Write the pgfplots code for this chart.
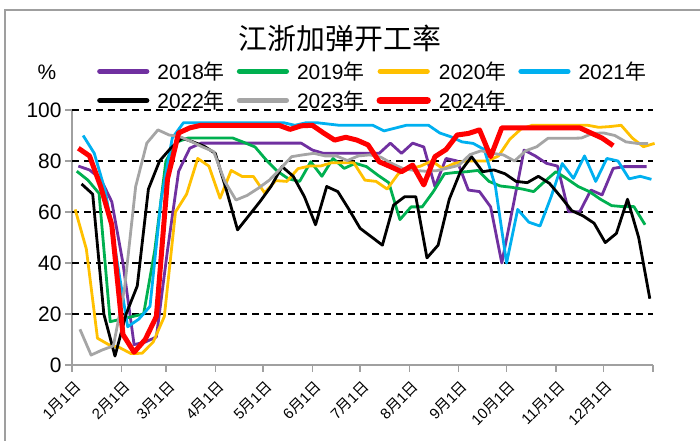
\documentclass[border=0pt]{standalone}
\usepackage{pgfplots}
\pgfplotsset{compat=1.18}
\usepackage{fontspec}
\setmainfont{Liberation Sans}
\newfontfamily\cjk{Noto Sans CJK SC}
\newcommand\md[1]{#1{\cjk 月}1{\cjk 日}}
\definecolor{c18}{HTML}{7030A0}
\definecolor{c19}{HTML}{00B050}
\definecolor{c20}{HTML}{FFC000}
\definecolor{c21}{HTML}{00B0F0}
\definecolor{c22}{HTML}{000000}
\definecolor{c23}{HTML}{A5A5A5}
\definecolor{c24}{HTML}{FF0000}
\definecolor{axgray}{HTML}{A0A0A0}
\begin{document}
\begin{tikzpicture}
\path[use as bounding box] (0,0) rectangle (700bp,441bp);
\draw[color=gray!75, line width=1.5bp] (5bp,0bp) -- (5bp,431bp) -- (700bp,431bp);
\node[font=\cjk\fontsize{29}{32}\selectfont] at (340bp,403bp) {江浙加弹开工率};
\node[font=\fontsize{21}{21}\selectfont] at (47bp,369bp) {\%};
\begin{axis}[
 at={(72bp,76bp)}, anchor=south west,
 scale only axis, width=581bp, height=255bp,
 xmin=0, xmax=365, ymin=0, ymax=100,
 axis lines*=left,
 axis line style={-, draw=axgray, line width=1.5bp},
 tick align=outside,
 major tick length=7bp,
 tick style={draw=axgray, line width=1.3bp},
 xtick={0,31,59,90,120,151,181,212,243,273,304,334,365},
 xticklabels={\md{1},\md{2},\md{3},\md{4},\md{5},\md{6},\md{7},\md{8},\md{9},\md{10},\md{11},\md{12},{}},
 xticklabel style={rotate=45, anchor=north east, font=\fontsize{15}{15}\selectfont, inner sep=1bp, xshift=-3bp, yshift=-5bp},
 ytick={0,20,40,60,80,100},
 yticklabel style={font=\fontsize{21}{21}\selectfont},
 /pgf/number format/assume math mode=true,
 extra y ticks={20,40,60,80,100},
 extra y tick labels={},
 extra y tick style={ymajorgrids=true, major grid style={black, line width=1.2bp, dash pattern=on 7bp off 5bp}},
 clip=false,
 legend columns=4,
 legend cell align=left,
 legend style={at={(axis description cs:0.043,1.19)}, anchor=north west, draw=none, fill=none,
   inner sep=0pt, row sep=10bp, font=\fontsize{21}{21}\selectfont,
   nodes={inner sep=0pt},
   /tikz/every odd column/.append style={column sep=8bp},
   /tikz/every even column/.append style={column sep=12bp}},
 legend image code/.code={\draw[#1, line cap=round, line width=\pgflinewidth+1.2bp] (2bp,0bp) -- (49bp,0bp);},
 every axis plot/.append style={line join=round, no markers},
]
\addplot[c18, line width=2.8bp] table[row sep=\\, header=false, x expr=\coordindex*7+4, y index=0] {
78\\76.5\\73\\64\\40\\8\\9\\11\\45\\76\\85\\
87\\87\\87\\87\\87\\87\\87\\87\\87\\87\\
84.3\\83\\83\\83\\83\\83\\83\\87\\83\\87\\85.5\\70\\81\\80\\68.6\\68\\62\\40\\62\\84.3\\82\\79.1\\78\\60.1\\60.1\\68.6\\66.7\\77.1\\77.8\\77.8\\77.8\\
};
\addlegendentry{2018{\cjk 年}}
\addplot[c19, line width=2.8bp] table[row sep=\\, header=false, x expr=\coordindex*7+3, y index=0] {
76\\72.5\\67.3\\17\\18\\19\\20\\45\\80\\87.5\\89\\89\\89\\89\\89\\87.3\\85.5\\80.4\\76\\73\\72\\79.7\\74\\81\\77.1\\79.1\\77.8\\74.5\\71.5\\57\\62\\62\\68\\75\\75.5\\75.8\\76.3\\72\\70.2\\69.7\\69\\68\\72\\75.8\\73\\70\\68\\65\\62.5\\62.1\\62.1\\55\\
};
\addlegendentry{2019{\cjk 年}}
\addplot[c20, line width=2.8bp] table[row sep=\\, header=false, x expr=\coordindex*7+2, y index=0] {
61\\45.5\\10.5\\8\\6.8\\4.5\\4.6\\9\\19\\60\\67\\
81\\78\\65.4\\76.3\\73.9\\73.9\\67.5\\72.3\\72\\77\\
78\\78\\79.3\\79.3\\79.3\\72.5\\72\\69\\75\\77\\
78\\80\\77\\79\\80\\80\\80\\82\\88.5\\92.5\\
94\\94\\94\\94\\94\\94\\93.2\\93.5\\94\\89\\85.6\\86.9\\
};
\addlegendentry{2020{\cjk 年}}
\addplot[c21, line width=2.8bp] table[row sep=\\, header=false, x expr=\coordindex*7+7, y index=0] {
90\\83\\68\\42\\15\\18\\23\\65\\89\\
95\\95\\95\\95\\95\\95\\95\\95\\95\\95\\
94\\95\\95\\94.5\\94\\94\\94\\94\\
91.8\\92.9\\94\\94\\94\\91\\89.5\\87.5\\86.9\\84.5\\
70\\40\\61\\56\\54.5\\66\\79\\73.2\\82\\72\\81\\80\\73\\74\\72.8\\
};
\addlegendentry{2021{\cjk 年}}
\addplot[c22, line width=2.8bp] table[row sep=\\, header=false, x expr=\coordindex*7+6, y index=0] {
71\\67\\20\\3.5\\20\\31\\69\\80\\85\\89\\
87.5\\85.8\\83\\68.6\\53\\58.5\\64\\70\\77.8\\74\\
66\\55\\70\\68\\61\\53.6\\50.3\\47\\62.7\\66\\
66\\42\\47\\65\\75.8\\81.7\\75.8\\76.5\\75\\72\\
71.5\\74\\71.2\\66\\60.5\\58.5\\55.6\\48\\51.6\\65\\50\\26\\
};
\addlegendentry{2022{\cjk 年}}
\addplot[c23, line width=2.8bp] table[row sep=\\, header=false, x expr=\coordindex*7+5, y index=0] {
14\\3.9\\5.9\\7.5\\30\\70\\87\\92.2\\90.2\\89.5\\
87.6\\85.5\\83.7\\72\\64.7\\66.5\\69.3\\72.5\\77\\81.7\\
82.4\\83\\82\\82\\80.2\\82\\82.4\\81.5\\79\\77\\
76.3\\76\\76.2\\77.2\\78.3\\82.5\\84\\83\\82.4\\80\\
84\\85.6\\88.9\\88.9\\88.9\\89\\90.8\\91\\90\\87.5\\86.9\\86.9\\
};
\addlegendentry{2023{\cjk 年}}
\addplot[c24, line width=5bp] table[row sep=\\, header=false, x expr=\coordindex*7+4, y index=0] {
85\\82\\70\\55\\12\\5\\10\\19\\73\\91\\93\\
94\\94\\94\\94\\94\\94\\94\\94\\
92.4\\93.8\\94\\91\\88.2\\89.3\\88.2\\86.3\\
79.7\\77.8\\75.8\\78.4\\70.6\\81.7\\84.5\\90.2\\90.8\\92.2\\81.7\\
93\\93\\93\\93\\93\\93\\93\\93\\91\\89\\86\\
};
\addlegendentry{2024{\cjk 年}}
\end{axis}
\end{tikzpicture}
\end{document}
